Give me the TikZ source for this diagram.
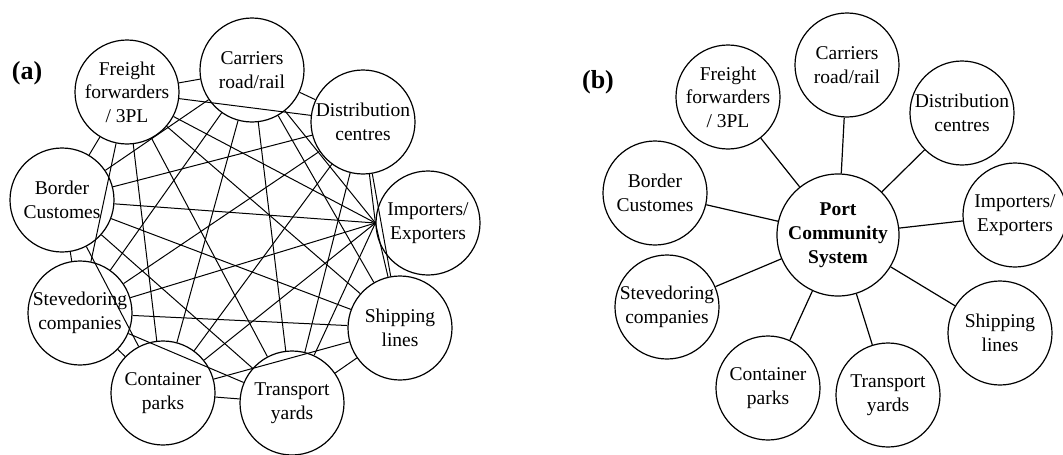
\documentclass[tikz,border=0pt]{standalone}
\usepackage{fontspec}
\setmainfont{Liberation Serif}
\begin{document}
\begin{tikzpicture}[x=1pt,y=-1pt,
  actor/.style={circle,draw,line width=1.2pt,fill=white,minimum size=104pt,inner sep=0pt,align=center,font=\fontsize{19.5}{23.5}\selectfont},
  hub/.style={actor,minimum size=122pt,font=\fontsize{19.5}{24}\selectfont\bfseries},
  edge/.style={line width=1pt,black},
  spoke/.style={line width=1.2pt,black},
  lab/.style={font=\fontsize{26}{30}\selectfont\bfseries,inner sep=0pt}]
\useasboundingbox (0,0) rectangle (1063,455);
% ---------- (a) ----------
\node[lab] (la) at (27,73) {(a)};
\node[actor] (aF) at (127,92) {Freight\\forwarders\\/ 3PL};
\node[actor] (aC) at (252,70) {Carriers\\road/rail};
\node[actor] (aD) at (363,122) {Distribution\\centres};
\node[actor] (aI) at (428,223) {Importers/\\Exporters};
\node[actor] (aS) at (400,328) {Shipping\\lines};
\node[actor] (aT) at (292,403) {Transport\\yards};
\node[actor] (aK) at (163,393) {Container\\parks};
\node[actor] (aV) at (80,313) {Stevedoring\\companies};
\node[actor] (aB) at (62,200) {Border\\Customes};
\coordinate (aIp) at (aI.west);
\foreach \a [count=\i] in {aF,aC,aD,aIp,aS,aT,aK,aV,aB}{
  \foreach \b [count=\j] in {aF,aC,aD,aIp,aS,aT,aK,aV,aB}{
    \ifnum\j>\i \draw[edge] (\a) -- (\b); \fi
  }
}
% ---------- (b) ----------
\node[lab] (lb) at (598,82) {(b)};
\node[hub] (bP) at (838,235) {Port\\Community\\System};
\node[actor] (bF) at (728,97) {Freight\\forwarders\\/ 3PL};
\node[actor] (bC) at (847,65) {Carriers\\road/rail};
\node[actor] (bD) at (962,113) {Distribution\\centres};
\node[actor] (bI) at (1015,215) {Importers/\\Exporters};
\node[actor] (bS) at (1000,333) {Shipping\\lines};
\node[actor] (bT) at (888,395) {Transport\\yards};
\node[actor] (bK) at (768,388) {Container\\parks};
\node[actor] (bV) at (667,307) {Stevedoring\\companies};
\node[actor] (bB) at (655,193) {Border\\Customes};
\foreach \b in {bF,bC,bD,bI,bS,bT,bK,bV,bB}{
  \draw[spoke] (bP) -- (\b);
}
\end{tikzpicture}
\end{document}
